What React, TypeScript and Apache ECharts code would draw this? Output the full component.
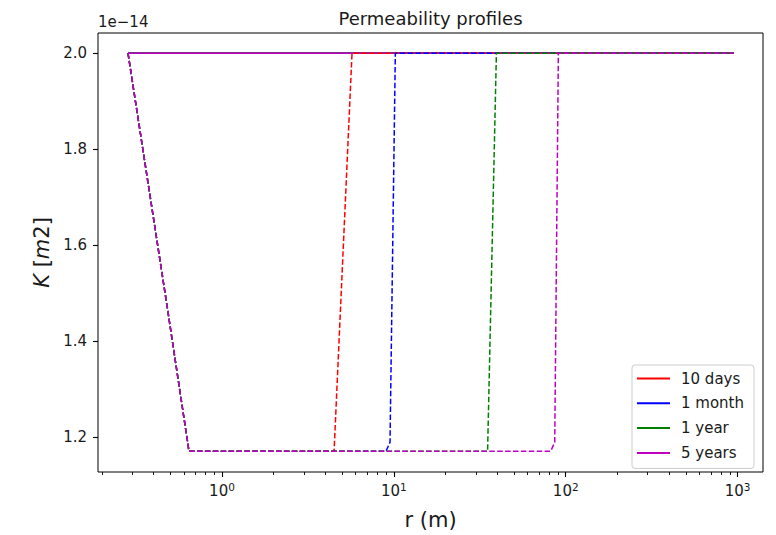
import React, { useEffect, useRef } from "react";
import * as echarts from "echarts";

// ---- data (r in metres, K in units of 1e-14 m2) ----
const seriesNames = ["10 days", "1 month", "1 year", "5 years"];
const seriesColors = ["#ff0000", "#0000ff", "#008000", "#bf00bf"];

// initial permeability (solid lines)
const initialR = [0.284, 948];
const initialK = [2.0, 2.0];

// permeability profiles (dashed lines)
const tenDaysR = [0.284, 0.48, 0.643, 4.49, 5.71, 948];
const tenDaysK = [2.0, 1.472, 1.171, 1.171, 2.0, 2.0];
const oneMonthR = [0.284, 0.48, 0.643, 9.0, 9.5, 10.2, 948];
const oneMonthK = [2.0, 1.472, 1.171, 1.171, 1.19, 2.0, 2.0];
const oneYearR = [0.284, 0.48, 0.643, 35.1, 39.5, 948];
const oneYearK = [2.0, 1.472, 1.171, 1.171, 2.0, 2.0];
const fiveYearsR = [0.284, 0.48, 0.643, 81.7, 86.3, 90.6, 948];
const fiveYearsK = [2.0, 1.472, 1.171, 1.171, 1.19, 2.0, 2.0];

const xMajorTicks = [1, 10, 100, 1000];
const xMinorTicks = [
  0.2, 0.3, 0.4, 0.5, 0.6, 0.7, 0.8, 0.9,
  2, 3, 4, 5, 6, 7, 8, 9,
  20, 30, 40, 50, 60, 70, 80, 90,
  200, 300, 400, 500, 600, 700, 800, 900,
];
const yTicks = [1.2, 1.4, 1.6, 1.8, 2.0];

const X_MIN = 0.19;
const X_MAX = 1405;
const Y_MIN = 1.128;
const Y_MAX = 2.042;

const FONT = "DejaVu Sans";
const TEXT = "#1a1a1a";

const pairs = (xs: number[], ys: number[]) => xs.map((x, i) => [x, ys[i]]);

export default function App() {
  const ref = useRef<HTMLDivElement>(null);

  useEffect(() => {
    document.body.style.margin = "0";
    const chart = echarts.init(ref.current!, null, { renderer: "svg" });

    const profiles = [
      pairs(tenDaysR, tenDaysK),
      pairs(oneMonthR, oneMonthK),
      pairs(oneYearR, oneYearK),
      pairs(fiveYearsR, fiveYearsK),
    ];

    const solidSeries = seriesNames.map((name, i) => ({
      name,
      type: "line",
      symbol: "none",
      showSymbol: false,
      data: pairs(initialR, initialK),
      lineStyle: { color: seriesColors[i], width: 1.5, type: "solid" },
      itemStyle: { color: seriesColors[i] },
      silent: true,
      z: 2,
    }));

    const dashedSeries = seriesNames.map((name, i) => ({
      name: name + " profile",
      type: "line",
      symbol: "none",
      showSymbol: false,
      data: profiles[i],
      lineStyle: { color: seriesColors[i], width: 1.5, type: [5.5, 2.4] },
      itemStyle: { color: seriesColors[i] },
      silent: true,
      z: 3,
    }));

    chart.setOption({
      animation: false,
      textStyle: { fontFamily: FONT },
      grid: {
        left: 98,
        right: 13,
        top: 33,
        bottom: 62,
        show: true,
        borderColor: "#000",
        borderWidth: 1,
        backgroundColor: "transparent",
      },
      graphic: [
        {
          type: "text",
          x: 430.5,
          y: 18,
          style: {
            text: "Permeability profiles",
            font: `18px "${FONT}"`,
            fill: TEXT,
            align: "center",
            verticalAlign: "middle",
            textAlign: "center",
            textVerticalAlign: "middle",
          },
        },
        {
          type: "text",
          x: 98,
          y: 22,
          style: {
            text: "1e\u221214",
            font: `15px "${FONT}"`,
            fill: TEXT,
            align: "left",
            verticalAlign: "middle",
            textAlign: "left",
            textVerticalAlign: "middle",
          },
        },
      ],
      legend: {
        data: seriesNames,
        orient: "vertical",
        left: 632,
        top: 365,
        itemWidth: 33,
        itemHeight: 14,
        itemGap: 9.8,
        padding: [6, 10, 8, 4],
        borderColor: "#cccccc",
        borderWidth: 1,
        borderRadius: 3,
        backgroundColor: "rgba(255,255,255,0.8)",
        itemStyle: { color: "transparent", borderColor: "transparent", borderWidth: 0, opacity: 0 },
        textStyle: { fontSize: 15, fontFamily: FONT, color: TEXT, padding: [0, 0, 0, 6] },
      },
      xAxis: [
        {
          type: "log",
          logBase: 10,
          min: X_MIN,
          max: X_MAX,
          name: "r (m)",
          nameLocation: "middle",
          nameGap: 37,
          nameTextStyle: { fontSize: 21, fontFamily: FONT, color: TEXT },
          axisLine: { show: false },
          splitLine: { show: false },
          axisTick: {
            show: true,
            length: 5,
            customValues: xMajorTicks,
            lineStyle: { color: "#000", width: 1.1 },
          },
          axisLabel: {
            customValues: xMajorTicks,
            margin: 9,
            color: TEXT,
            fontFamily: FONT,
            formatter: (v: number) => `{b|10}{s|${Math.round(Math.log10(v))}}`,
            rich: {
              b: { fontSize: 15, fontFamily: FONT, color: TEXT },
              s: { fontSize: 10.5, fontFamily: FONT, color: TEXT, padding: [0, 0, 9, 0] },
            },
          },
        },
        {
          type: "log",
          logBase: 10,
          min: X_MIN,
          max: X_MAX,
          position: "bottom",
          axisLine: { show: false },
          splitLine: { show: false },
          axisLabel: { show: false },
          axisTick: {
            show: true,
            length: 3,
            customValues: xMinorTicks,
            lineStyle: { color: "#000", width: 0.9 },
          },
        },
      ],
      yAxis: {
        type: "value",
        min: Y_MIN,
        max: Y_MAX,
        name: "{i|K} [{i|m}2]",
        nameLocation: "middle",
        nameGap: 45,
        nameRotate: 90,
        nameTextStyle: {
          fontSize: 21,
          fontFamily: FONT,
          color: TEXT,
          rich: { i: { fontSize: 21, fontFamily: FONT, fontStyle: "italic", color: TEXT } },
        },
        axisLine: { show: false },
        splitLine: { show: false },
        axisTick: {
          show: true,
          length: 5,
          customValues: yTicks,
          lineStyle: { color: "#000", width: 1.1 },
        },
        axisLabel: {
          customValues: yTicks,
          margin: 11,
          fontSize: 15,
          fontFamily: FONT,
          color: TEXT,
          formatter: (v: number) => v.toFixed(1),
        },
      },
      series: [...solidSeries, ...dashedSeries],
    });

    return () => chart.dispose();
  }, []);

  return (
    <div
      ref={ref}
      style={{ position: "fixed", left: 0, top: 0, width: 776, height: 535, background: "#fff" }}
    />
  );
}
